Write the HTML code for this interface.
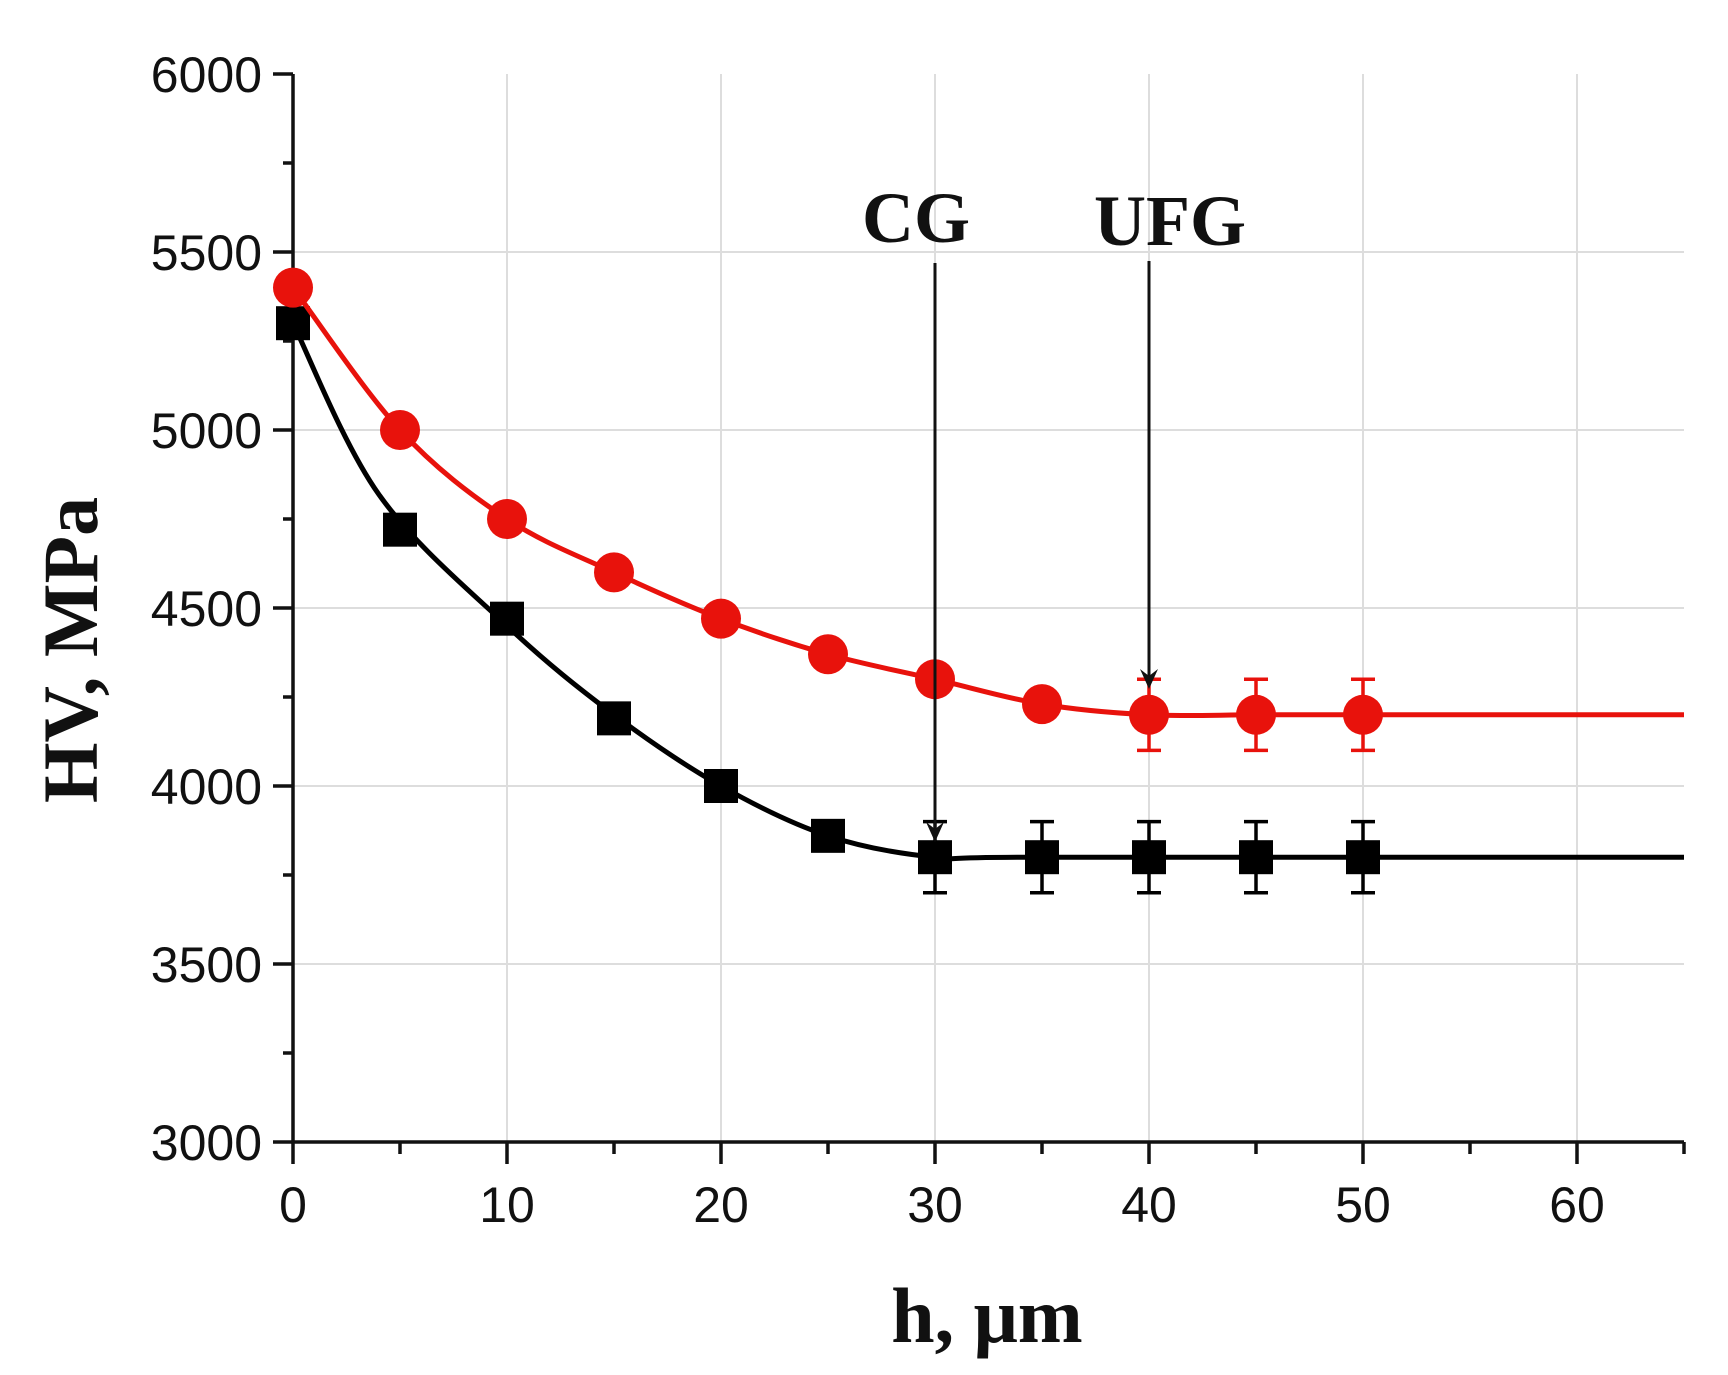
<!DOCTYPE html>
<html><head><meta charset="utf-8"><style>
html,body{margin:0;padding:0;background:#fff;}
svg{display:block}
.t{font-family:"Liberation Sans",sans-serif;font-size:50px;fill:#111}
.b{font-family:"Liberation Serif",serif;font-weight:bold;fill:#111}
</style></head><body>
<svg id="s" width="1728" height="1375" viewBox="0 0 1728 1375" xmlns="http://www.w3.org/2000/svg">
<g id="grid" stroke="#ddd" stroke-width="2"></g>
<g id="ax" stroke="#111" stroke-width="3.5" fill="none"></g>
<g id="lab"></g>
<g id="ser"></g>
<text class="b" x="987" y="1342" font-size="78" text-anchor="middle">h, μm</text>
<text class="b" x="0" y="0" font-size="78" text-anchor="middle" transform="translate(97,650) rotate(-90)">HV, MPa</text>
<text class="b" x="916" y="242" font-size="72" text-anchor="middle">CG</text>
<text class="b" x="1170" y="245" font-size="72" text-anchor="middle">UFG</text>
</svg>
<script>
const NS="http://www.w3.org/2000/svg";
const X=h=>293+21.4*h, Y=v=>74+(6000-v)*0.356;
function el(p,t,a,txt){const e=document.createElementNS(NS,t);for(const k in a)e.setAttribute(k,a[k]);if(txt!=null)e.textContent=txt;document.getElementById(p).appendChild(e);return e;}
for(let h=10;h<=60;h+=10)el('grid','line',{x1:X(h),x2:X(h),y1:Y(6000),y2:Y(3000)});
for(let v=3500;v<=5500;v+=500)el('grid','line',{x1:X(0),x2:X(65),y1:Y(v),y2:Y(v)});
el('ax','path',{d:`M${X(0)} ${Y(6000)} V${Y(3000)} H${X(65)}`});
for(let h=0;h<=65;h+=5){el('ax','line',{x1:X(h),x2:X(h),y1:Y(3000),y2:Y(3000)+(h%10?12:22)});}
for(let v=3000;v<=6000;v+=250){el('ax','line',{x1:X(0),x2:X(0)-(v%500?10:20),y1:Y(v),y2:Y(v)});}
for(let h=0;h<=60;h+=10)el('lab','text',{class:'t',x:X(h),y:1222,'text-anchor':'middle'},h);
for(let v=3000;v<=6000;v+=500)el('lab','text',{class:'t',x:262,y:Y(v)+18,'text-anchor':'end'},v);
function curve(pts){let d=`M${pts[0][0]} ${pts[0][1]}`;for(let i=0;i<pts.length-1;i++){const p0=pts[Math.max(0,i-1)],p1=pts[i],p2=pts[i+1],p3=pts[Math.min(pts.length-1,i+2)];
d+=` C${p1[0]+(p2[0]-p0[0])/6} ${p1[1]+(p2[1]-p0[1])/6} ${p2[0]-(p3[0]-p1[0])/6} ${p2[1]-(p3[1]-p1[1])/6} ${p2[0]} ${p2[1]}`;}return d;}
const red=[[0,5400],[5,5000],[10,4750],[15,4600],[20,4470],[25,4370],[30,4300],[35,4230],[40,4200],[45,4200],[50,4200],[65,4200]];
const blk=[[0,5300],[5,4720],[10,4470],[15,4190],[20,4000],[25,3860],[30,3800],[35,3800],[40,3800],[45,3800],[50,3800],[65,3800]];
const blkCurve=[[0,5300],[4,4820],[10,4450],[15,4200],[20,4000],[25,3860],[30,3800],[35,3800],[65,3800]];
function series(data,cdata,col,shape,err){
el('ser','path',{d:curve(cdata.map(p=>[X(p[0]),Y(p[1])])),stroke:col,'stroke-width':5,fill:'none'});
data.slice(0,-1).forEach(p=>{const x=X(p[0]),y=Y(p[1]);
if(err.includes(p[0])){el('ser','path',{d:`M${x} ${Y(p[1]-100)} V${Y(p[1]+100)} M${x-12} ${Y(p[1]-100)} h24 M${x-12} ${Y(p[1]+100)} h24`,stroke:col,'stroke-width':3.5,fill:'none'});}
if(shape=='c')el('ser','circle',{cx:x,cy:y,r:20,fill:col});else el('ser','rect',{x:x-17,y:y-17,width:34,height:34,fill:col});});}
series(blk,blkCurve,'#000','s',[30,35,40,45,50]);
series(red,red,'#e8120c','c',[40,45,50]);
function arrow(x,y1,y2){el('ser','line',{x1:x,x2:x,y1:y1,y2:y2-4,stroke:'#111','stroke-width':3});
el('ser','path',{d:`M${x-9} ${y2-20} L${x} ${y2} L${x+9} ${y2-20} L${x} ${y2-13}Z`,fill:'#111'});}
arrow(X(30),263,842);
arrow(X(40),261,689);
</script>
</body></html>
